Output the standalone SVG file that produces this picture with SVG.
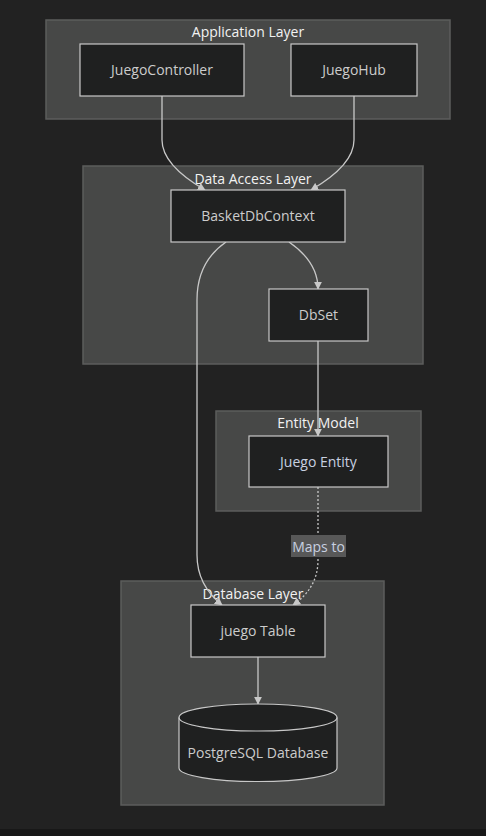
<svg xmlns="http://www.w3.org/2000/svg" width="486" height="836" viewBox="0 0 486 836">
<style>
.cl{fill:#474847;stroke:#5c5d5c;stroke-width:1.5}
.ct{fill:#f2f2f2;font-family:"Open Sans","Noto Sans",sans-serif;font-size:14px;text-anchor:middle}
.nd{fill:#1f2020;stroke:#c8c8c8;stroke-width:1.2}
.nt{fill:#cccccc;font-family:"Open Sans","Noto Sans",sans-serif;font-size:14px;text-anchor:middle}
.e{fill:none;stroke:#c8c8c8;stroke-width:1.3}
.d{stroke-dasharray:2 2}
</style>
<defs>
<marker id="ah" viewBox="0 0 10 10" refX="9" refY="5" markerWidth="8" markerHeight="8" markerUnits="userSpaceOnUse" orient="auto">
<path d="M0,0L10,5L0,10z" fill="#c8c8c8"/>
</marker>
</defs>
<rect width="486" height="836" fill="#222222"/>
<rect y="829" width="486" height="7" fill="#181818"/>
<g id="cluster-app"><rect class="cl" x="46" y="20" width="404" height="99"/><text class="ct" x="248" y="37">Application Layer</text></g>
<g id="cluster-dal"><rect class="cl" x="83" y="166" width="340" height="198"/><text class="ct" x="253" y="184">Data Access Layer</text></g>
<g id="cluster-entity"><rect class="cl" x="216" y="411" width="205" height="100"/><text class="ct" x="318" y="428">Entity Model</text></g>
<g id="cluster-db"><rect class="cl" x="121" y="581" width="263" height="224"/><text class="ct" x="253" y="599">Database Layer</text></g>
<g id="connectors">
<path class="e" marker-end="url(#ah)" d="M162,96 V140 Q162,165 205,190"/>
<path class="e" marker-end="url(#ah)" d="M354,96 V140 Q354,165 311,190"/>
<path class="e" marker-end="url(#ah)" d="M289,242 Q318,262 318,289"/>
<path class="e" marker-end="url(#ah)" d="M226,242 Q197,262 197,300 V555 Q197,585 222,605"/>
<path class="e" marker-end="url(#ah)" d="M318,341 V436"/>
<path class="e d" marker-end="url(#ah)" d="M318,487 V560 Q318,588 293,605"/>
<path class="e" marker-end="url(#ah)" d="M258,657 V704"/>
<rect x="291" y="535" width="55" height="22" fill="#585858"/>
<text class="nt" x="318.5" y="551.5" style="fill:#c8d0e0">Maps to</text>
</g>
<g id="JuegoController"><rect class="nd" x="80" y="44" width="164" height="52"/><text class="nt" x="162" y="75">JuegoController</text></g>
<g id="JuegoHub"><rect class="nd" x="291" y="44" width="126" height="52"/><text class="nt" x="354" y="75">JuegoHub</text></g>
<g id="BasketDbContext"><rect class="nd" x="171" y="190" width="174" height="52"/><text class="nt" x="258" y="221">BasketDbContext</text></g>
<g id="DbSet"><rect class="nd" x="269" y="289" width="99" height="52"/><text class="nt" x="318.5" y="320">DbSet</text></g>
<g id="JuegoEntity"><rect class="nd" x="249" y="436" width="139" height="51"/><text class="nt" x="318.5" y="467" style="fill:#c8d0e0">Juego Entity</text></g>
<g id="JuegoTable"><rect class="nd" x="191" y="605" width="134" height="52"/><text class="nt" x="258" y="636">juego Table</text></g>
<g id="PostgreSQL">
<path class="nd" d="M179,717.5 A79,13.5 0 0 1 337,717.5 V768 A79,13.5 0 0 1 179,768 Z"/>
<path class="nd" style="fill:none" d="M179,717.5 A79,13.5 0 0 0 337,717.5"/>
<text class="nt" x="258" y="758">PostgreSQL Database</text>
</g>
</svg>
